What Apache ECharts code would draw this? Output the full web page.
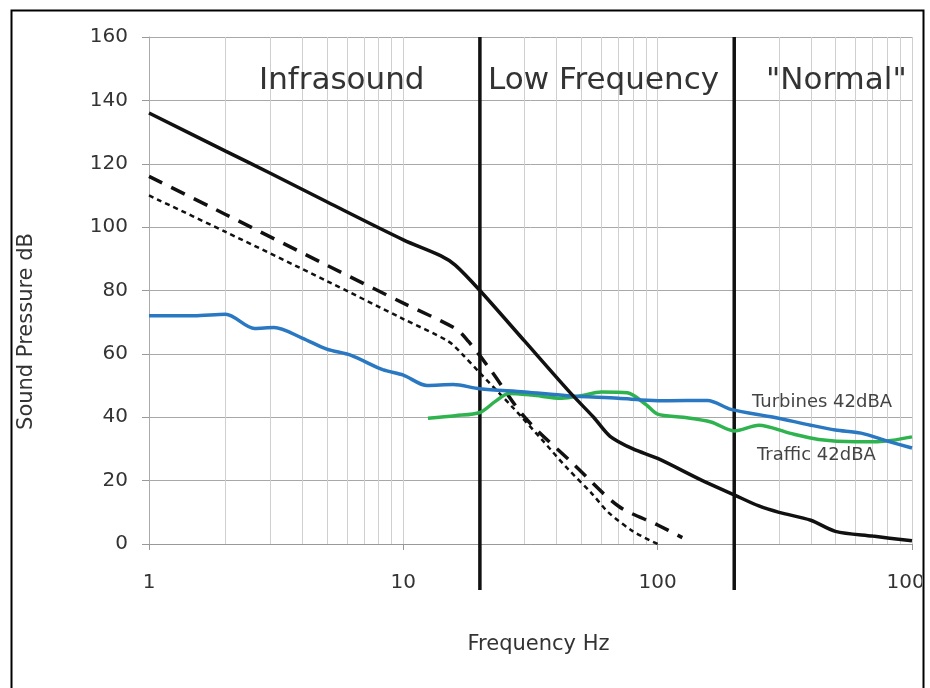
<!DOCTYPE html>
<html>
<head>
<meta charset="utf-8">
<script src="https://cdn.jsdelivr.net/npm/echarts@6/dist/echarts.min.js"></script>
<style>html,body{margin:0;padding:0;background:#fff;}#c{width:930px;height:688px;}</style>
</head>
<body>
<div id="c"></div>
<script>
// Threshold-style black curve (solid)
const blackFreq = [1, 2, 3, 5, 10, 14, 16, 20, 30, 45, 56, 65, 80, 100, 150, 200, 250, 300, 400, 500, 700, 1000];
const blackVal  = [136, 124, 117, 108, 96, 91, 88, 80, 64, 48, 40, 34, 30, 27, 20, 15.5, 12, 10, 7.5, 4, 2.5, 1];
// Long-dash curve
const dashFreq = [1, 2, 5, 10, 16, 18, 22, 30, 47, 70, 100, 125];
const dashVal  = [116, 104, 88, 76, 68, 64, 55, 40, 25, 12, 6, 2];
// Short-dash curve
const dotFreq = [1, 2, 5, 10, 15, 17, 20, 27, 35, 44, 55, 64, 80, 100];
const dotVal  = [110, 98.5, 83, 71, 64, 60, 54, 43, 33, 24, 16, 10, 4, 0];
// Turbines 42dBA
const turbFreq = [1, 1.5, 2, 2.6, 3.1, 4, 5, 6.2, 8.3, 10, 12.4, 15.7, 20, 30, 44, 70, 91, 110, 157, 194, 286, 400, 500, 630, 800, 1000];
const turbVal  = [72, 72, 72.5, 68, 68.3, 65, 61.5, 59.6, 55, 53.3, 50, 50.3, 49, 48, 46.8, 46, 45.4, 45.2, 45.3, 42.5, 40, 37.5, 36, 35, 32.5, 30.3];
// Traffic 42dBA
const trafFreq = [12.5, 16, 20, 23, 26, 32, 42, 50, 60, 76, 90, 100, 126, 162, 200, 250, 330, 430, 600, 730, 1000];
const trafVal  = [39.7, 40.5, 41.5, 45, 47.5, 47, 46, 46.8, 48, 47.7, 44, 41, 40, 38.5, 35.7, 37.5, 35, 33, 32.3, 32.3, 33.8];
// Band boundaries
const bandLines = [20, 200];
// Minor vertical gridlines
const minorGrid = [2,3,4,5,6,7,8,9,20,30,40,50,60,70,80,90,200,300,400,500,600,700,800,900];
const yTicks = {min: 0, max: 160, interval: 20};

const pairs = (xs, ys) => xs.map((x, i) => [x, ys[i]]);
const FONT = 'DejaVu Sans';

const chart = echarts.init(document.getElementById('c'), null, {renderer: 'canvas'});
chart.setOption({
  animation: false,
  backgroundColor: '#fff',
  textStyle: {fontFamily: FONT},
  grid: {left: 149, right: 18, top: 37, bottom: 144, containLabel: false, outerBoundsMode: 'none'},
  xAxis: {
    type: 'log', logBase: 10, min: 1, max: 1000,
    name: 'Frequency Hz', nameLocation: 'middle', nameGap: 90,
    nameTextStyle: {color: '#333', fontSize: 21, fontFamily: FONT, padding: [0, 0, 0, 16]},
    axisLine: {show: true, lineStyle: {color: '#999', width: 1}},
    axisTick: {show: true, length: 6, lineStyle: {color: '#999'}},
    axisLabel: {color: '#333', fontSize: 20, margin: 29, fontFamily: FONT, formatter: v => String(v)},
    splitLine: {show: true, lineStyle: {color: '#cfcfcf', width: 1}},
    minorTick: {show: false}, minorSplitLine: {show: false}
  },
  yAxis: {
    type: 'value', min: yTicks.min, max: yTicks.max, interval: yTicks.interval,
    name: 'Sound Pressure dB', nameLocation: 'middle', nameGap: 112, nameRotate: 90,
    nameTextStyle: {color: '#333', fontSize: 21, fontFamily: FONT, padding: [0, 82, 0, 0]},
    axisLine: {show: true, lineStyle: {color: '#aaa'}},
    axisTick: {show: true, length: 7, lineStyle: {color: '#999'}},
    axisLabel: {color: '#333', fontSize: 20, margin: 21, fontFamily: FONT},
    splitLine: {show: true, lineStyle: {color: '#a8a8a8', width: 1}}
  },
  series: [
    {
      type: 'line', data: [], silent: true,
      markLine: {
        silent: true, symbol: 'none', label: {show: false},
        lineStyle: {color: '#cfcfcf', width: 1, type: 'solid'},
        emphasis: {disabled: true},
        data: minorGrid.map(v => ({xAxis: v}))
      }
    },
    {
      type: 'custom', silent: true, z: 5, clip: false,
      data: bandLines.map(v => [v, 0]),
      renderItem: (params, api) => {
        const top = api.coord([api.value(0), yTicks.max]);
        const bot = api.coord([api.value(0), yTicks.min]);
        return {type: 'line', shape: {x1: top[0], y1: top[1], x2: bot[0], y2: bot[1] + 46},
                style: {stroke: '#111', lineWidth: 3.5}};
      }
    },
    {type: 'line', data: pairs(dotFreq, dotVal), showSymbol: false, smooth: 0.3, z: 6,
     lineStyle: {color: '#111', width: 2.5, type: [5, 4]}},
    {type: 'line', data: pairs(dashFreq, dashVal), showSymbol: false, smooth: 0.3, z: 6,
     lineStyle: {color: '#111', width: 3.5, type: [15, 10]}},
    {type: 'line', data: pairs(trafFreq, trafVal), showSymbol: false, smooth: 0.3, z: 7,
     lineStyle: {color: '#2eb34f', width: 3.5}},
    {type: 'line', data: pairs(turbFreq, turbVal), showSymbol: false, smooth: 0.3, z: 7,
     lineStyle: {color: '#2a78c2', width: 3.5}},
    {type: 'line', data: pairs(blackFreq, blackVal), showSymbol: false, smooth: 0.3, z: 8,
     lineStyle: {color: '#111', width: 3.5}}
  ],
  graphic: [
    {type: 'text', left: 259, top: 65, z: 20, style: {text: 'Infrasound', fontSize: 31, fontFamily: FONT, fill: '#333'}},
    {type: 'text', left: 488, top: 65, z: 20, style: {text: 'Low Frequency', fontSize: 31, fontFamily: FONT, fill: '#333'}},
    {type: 'text', left: 766, top: 65, z: 20, style: {text: '"Normal"', fontSize: 31, fontFamily: FONT, fill: '#333'}},
    {type: 'text', left: 752, top: 393, z: 20, style: {text: 'Turbines 42dBA', fontSize: 18, fontFamily: FONT, fill: '#444'}},
    {type: 'text', left: 757, top: 446, z: 20, style: {text: 'Traffic 42dBA', fontSize: 18, fontFamily: FONT, fill: '#444'}},
    {type: 'rect', left: 922, top: 0, z: 30, shape: {width: 8, height: 688}, style: {fill: '#fff'}},
    {type: 'rect', left: 9, top: 8, z: 31, shape: {width: 912, height: 679}, style: {fill: 'none', stroke: '#000', lineWidth: 2}}
  ]
});
</script>
</body>
</html>
